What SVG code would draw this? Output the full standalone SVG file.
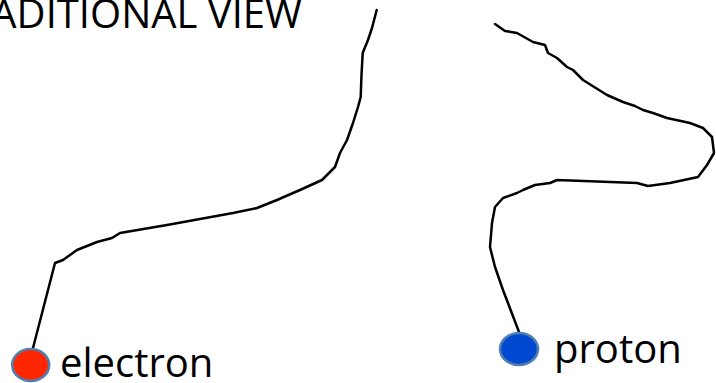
<svg xmlns="http://www.w3.org/2000/svg" width="716" height="383" viewBox="0 0 716 383">
<style>
.lbl{font-family:"Open Sans","Liberation Sans",sans-serif;font-size:40px;fill:#000}
.path{fill:none;stroke:#000;stroke-width:2.5;stroke-linejoin:round;stroke-linecap:round}
.dot{stroke:#4f7fb0;stroke-width:2.5}
</style>
<rect width="716" height="383" fill="#fff"/>
<text class="lbl" x="302" y="28" text-anchor="end">ADITIONAL VIEW</text>
<g id="connectors">
<polyline class="path" points="376.7,10 372,28 368,40 362.7,53 361.5,75 360.7,97 358,107 353,123 347,140 340,153 335,167 322,180 300,190 293,193 277,200 257,208 233,213 200,219 167,225 120,233 112,238 97,242 77,250 63,260 55,263 33,348"/>
<polyline class="path" points="495,24 505,31 517,33 533,42 545,45 548,53 557,58 567,67 573,70 583,80 607,95 623,102 635,106 643,110 653,113 667,118 690,123 703,128 712,137 714,153 707,165 698,177 670,183 648,186 637,183 557,180 550,183 535,185 523,190 517,193 503,198 495,207 492,223 490,247 495,267 503,290 519,332"/>
</g>
<g id="electron">
<ellipse class="dot" cx="30.7" cy="365" rx="18.5" ry="16" fill="#ff2600"/>
<text class="lbl" x="60" y="377">electron</text>
</g>
<g id="proton">
<ellipse class="dot" cx="519" cy="349" rx="19" ry="16" fill="#0048d0"/>
<text class="lbl" x="554" y="363">proton</text>
</g>
</svg>
